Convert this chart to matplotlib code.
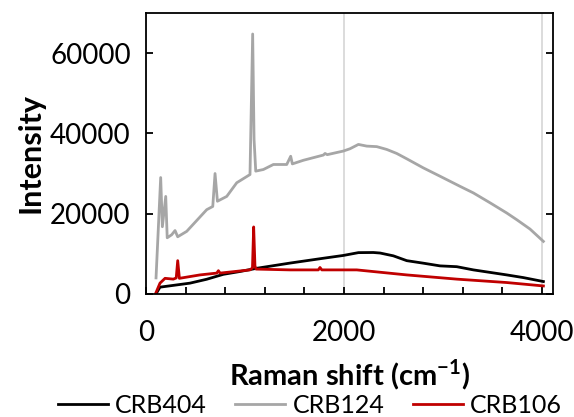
import matplotlib.pyplot as plt
from matplotlib.ticker import MultipleLocator

plt.rcParams['font.family'] = ['Lato', 'DejaVu Sans']
plt.rcParams['mathtext.fontset'] = 'custom'
plt.rcParams['mathtext.rm'] = 'Lato'
plt.rcParams['mathtext.bf'] = 'Lato:bold'

# CRB124 (grey)
x124 = [101, 148, 165, 199, 214, 259, 293, 320, 411, 613, 674, 697, 721, 815, 916,
        1050, 1077, 1091, 1108, 1185, 1286, 1421, 1461, 1478, 1589, 1791, 1808, 1830,
        1993, 2060, 2145, 2229, 2330, 2431, 2532, 2633, 2801, 2969, 3172, 3306, 3475,
        3643, 3744, 3878, 4013]
y124 = [4000, 29000, 16750, 24300, 14000, 14750, 15800, 14250, 15600, 21000, 21800, 30000,
        23100, 24300, 27700, 29750, 64750, 38500, 30600, 31000, 32250, 32250, 34300, 32400,
        33300, 34600, 35000, 34700, 35600, 36170, 37250, 36830, 36700, 36000, 35000, 33670,
        31400, 29330, 26800, 25170, 22700, 20170, 18500, 16170, 13100]

# CRB404 (black)
x404 = [100, 141, 444, 613, 781, 949, 1118, 1455, 1791, 1993, 2145, 2296, 2364, 2498,
        2633, 2801, 2969, 3138, 3306, 3643, 3811, 4013]
y404 = [0, 1700, 2700, 3670, 4900, 5600, 6400, 7700, 8900, 9600, 10300, 10330, 10200, 9500,
        8300, 7670, 7000, 6800, 6000, 4750, 4080, 3100]

# CRB106 (red)
x106 = [100, 141, 192, 276, 305, 320, 337, 545, 714, 731, 748, 1050, 1075, 1087, 1100, 1111,
        1455, 1740, 1757, 1775, 2128, 2633, 3138, 3643, 4013]
y106 = [300, 2700, 3900, 3700, 4000, 8300, 3900, 4750, 5200, 5800, 5200, 6000, 6500, 16700, 7000, 6200,
        6000, 6000, 6600, 6000, 6000, 4750, 3700, 2850, 2000]

fig = plt.figure(figsize=(5.74, 4.17), dpi=100)
ax = fig.add_axes([0.2544, 0.295, 0.709, 0.674])

ax.plot(x404, y404, color='black', linewidth=2.0, label='CRB404')
ax.plot(x124, y124, color='#a6a6a6', linewidth=2.0, label='CRB124')
ax.plot(x106, y106, color='#c00000', linewidth=2.0, label='CRB106')

ax.set_xlim(0, 4110)
ax.set_ylim(0, 70000)
ax.xaxis.set_major_locator(MultipleLocator(2000))
ax.xaxis.set_minor_locator(MultipleLocator(400))
ax.yaxis.set_major_locator(MultipleLocator(20000))
ax.grid(axis='x', which='major', color='#d9d9d9', linewidth=1.3, zorder=0)
ax.set_axisbelow(True)

for s in ax.spines.values():
    s.set_linewidth(1.3)
ax.tick_params(axis='both', which='major', direction='in', length=5, width=1.3,
               labelsize=20, right=True)
ax.tick_params(axis='y', which='major', pad=11)
ax.tick_params(axis='x', which='minor', direction='in', length=5, width=1.3)
ax.tick_params(axis='x', which='major', pad=19)

ax.set_xlabel('Raman shift (cm$^{\\mathbf{-1}}$)', fontsize=21, fontweight='bold', labelpad=8)
ax.set_ylabel('Intensity', fontsize=22, fontweight='bold', labelpad=4)

fig.legend(loc='lower center', bbox_to_anchor=(0.54, 0.0), ncol=3, frameon=False,
           fontsize=18, handlelength=2.0, handletextpad=0.28, columnspacing=1.15,
           borderpad=0, borderaxespad=0)

fig.savefig('out.png', dpi=100)
